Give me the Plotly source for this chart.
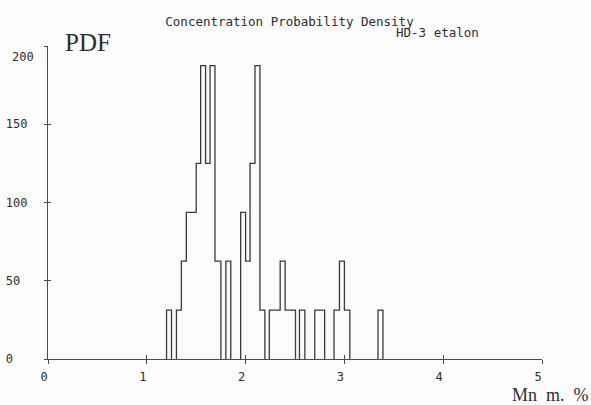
import plotly.graph_objects as go

# Bin edges (Mn, m. %) and probability density of each interval between edges
bin_edges = [1.20, 1.25, 1.30, 1.35, 1.40, 1.50, 1.545, 1.595, 1.64, 1.69, 1.75,
             1.80, 1.85, 1.95, 2.00, 2.045, 2.095, 2.145, 2.195, 2.24, 2.35, 2.40,
             2.505, 2.545, 2.60, 2.70, 2.80, 2.895, 2.95, 3.00, 3.055, 3.34, 3.39]
pdf_values = [31.25, 0, 31.25, 62.5, 93.75, 125, 187.5, 125, 187.5, 62.5, 0,
              62.5, 0, 93.75, 62.5, 125, 187.5, 31.25, 0, 31.25, 62.5, 31.25,
              0, 31.25, 0, 31.25, 0, 31.25, 62.5, 31.25, 0, 31.25]

x_ticks = [0, 1, 2, 3, 4, 5]
x_ticklabels = ["0", "1", "2", "3", "4", "5"]
y_ticks = [0, 50, 100, 150, 200]
y_ticklabels = ["0", "50", "100", "150", "200"]

title_text = "Concentration Probability Density"
subtitle_text = "HD-3 etalon"
y_title = "PDF"
x_title = "Mn m. %"

W, H = 591, 405
L, R, T, B = 48, 49, 46, 46
PW, PH = W - L - R, H - T - B

NB = "\u00a0"
mono = "DejaVu Sans Mono"
serif = "Liberation Serif"
ink = "#2e2e2e"
axc = "#4a4a4a"


def px2paper_x(px):
    return (px - L) / PW


def py2paper_y(py):
    return (H - B - py) / PH


# step outline of the histogram, one closed-at-baseline run per group of non-zero bins
xs, ys = [], []
i = 0
n = len(pdf_values)
while i < n:
    if pdf_values[i] == 0:
        i += 1
        continue
    j = i
    xs.append(bin_edges[i]); ys.append(0)
    while j < n and pdf_values[j] != 0:
        xs.append(bin_edges[j]); ys.append(pdf_values[j])
        j += 1
    xs.append(bin_edges[j]); ys.append(0)
    xs.append(None); ys.append(None)
    i = j

fig = go.Figure()
fig.add_trace(go.Scatter(x=xs, y=ys, mode="lines", line=dict(shape="hv", color="#3a3a3a", width=1.3),
                         connectgaps=False, hoverinfo="skip", showlegend=False))
# helper trace so the overlay axes (second half of crossing ticks) exist
fig.add_trace(go.Scatter(x=[0], y=[0], xaxis="x2", yaxis="y2", mode="none",
                         hoverinfo="skip", showlegend=False))

# pad y labels so they appear left aligned in monospace
maxlen = max(len(s) for s in y_ticklabels)
y_text = [s + NB * (maxlen - len(s)) for s in y_ticklabels]
y_text[-1] = ""  # top label is placed separately (it sits slightly below its tick)

fig.update_layout(
    width=W, height=H,
    margin=dict(l=L, r=R, t=T, b=B, autoexpand=False),
    paper_bgcolor="#fbfbfb", plot_bgcolor="#fbfbfb",
    title=dict(text=title_text, x=289.5 / W, y=1 - 21.5 / H, xanchor="center", yanchor="middle",
               font=dict(family=mono, size=12.5, color=ink), automargin=False),
    xaxis=dict(range=[0, 5], tickvals=x_ticks, ticktext=x_ticklabels, showgrid=False, zeroline=False,
               showline=True, linecolor=axc, linewidth=1.2, ticks="outside", ticklen=4, tickcolor=axc,
               tickwidth=1.2, tickfont=dict(family=mono, size=12, color=ink),
               ticklabelshift=-4, ticklabelstandoff=2, automargin=False),
    yaxis=dict(range=[0, 200], tickvals=y_ticks, ticktext=y_text, showgrid=False, zeroline=False,
               showline=True, linecolor=axc, linewidth=1.2, ticks="outside", ticklen=3, tickcolor=axc,
               tickwidth=1.2, tickfont=dict(family=mono, size=12, color=ink), ticklabelstandoff=14,
               automargin=False),
    xaxis2=dict(range=[0, 5], overlaying="x", anchor="y2", tickvals=x_ticks[1:], ticks="inside",
                ticklen=4, tickcolor=axc, tickwidth=1.2, showticklabels=False, showgrid=False,
                zeroline=False, showline=False, automargin=False),
    yaxis2=dict(range=[0, 200], overlaying="y", anchor="x2", tickvals=y_ticks[1:], ticks="inside",
                ticklen=3, tickcolor=axc, tickwidth=1.2, showticklabels=False, showgrid=False,
                zeroline=False, showline=False, automargin=False),
    showlegend=False,
)

x_title_spaced = x_title.replace(" ", NB + NB)

annos = [
    dict(text=subtitle_text, x=px2paper_x(437), y=py2paper_y(32), xanchor="center", yanchor="middle",
         font=dict(family=mono, size=12.5, color=ink)),
    dict(text=y_title, x=px2paper_x(63), y=py2paper_y(42), xanchor="left", yanchor="middle",
         font=dict(family=serif, size=25, color=ink)),
    dict(text=x_title_spaced, x=px2paper_x(590), y=py2paper_y(395), xanchor="right",
         yanchor="middle", borderpad=0, font=dict(family=serif, size=18, color=ink)),
    dict(text=y_ticklabels[-1], x=px2paper_x(10), y=py2paper_y(57), xanchor="left", yanchor="middle",
         font=dict(family=mono, size=12, color=ink)),
]
for a in annos:
    fig.add_annotation(xref="paper", yref="paper", showarrow=False, **a)

fig.write_html("out.html", config={"displayModeBar": False},
               post_script="document.body.style.margin='0';document.body.style.overflow='hidden';")
